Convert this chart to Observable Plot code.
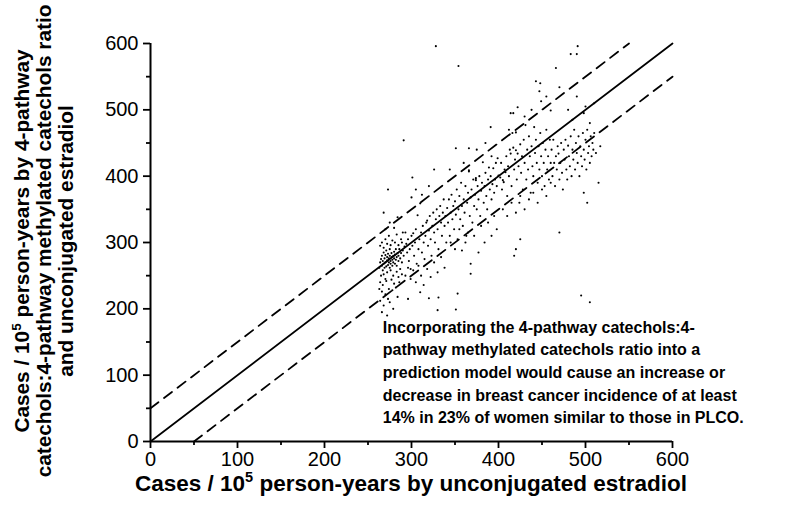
<!DOCTYPE html>
<html>
<head>
<meta charset="utf-8">
<script src="https://cdn.jsdelivr.net/npm/d3@7"></script>
<script src="https://cdn.jsdelivr.net/npm/@observablehq/plot@0.6"></script>
<style>
  html, body { margin: 0; padding: 0; background: #fff; }
  #chart { width: 804px; height: 518px; }
</style>
</head>
<body>
<div id="chart"></div>
<script>
// ---- Data ----
const majorTicks = [0, 100, 200, 300, 400, 500, 600];
const minorTicks = [50, 150, 250, 350, 450, 550];

// Reference lines: identity and +/- 50 bands
const identityLine = [[0, 0], [600, 600]];
const upperBand = [[0, 50], [550, 600]];
const lowerBand = [[50, 0], [600, 550]];

// Scatter: [unconjugated estradiol model, 4-pathway ratio model]
const points = [
[263,262],[264,270],[265,275],[266,265],[266,280],[267,258],[267,272],[268,268],[268,285],[269,262],[269,276],[270,270],[270,281],[271,264],[271,288],[272,273],[272,278],[273,266],[273,283],[274,270],[274,276],[275,262],[275,280],[275,290],[276,272],[276,268],[277,278],[277,284],[278,265],[278,274],[279,280],[279,270],[280,276],[280,286],[281,268],[281,282],[282,274],[282,290],[283,278],[283,265],[284,284],[285,272],[285,280],[286,290],[287,276],[288,284],[289,270],[290,288],[291,280],[292,294],
[265,250],[268,252],[270,245],[272,255],[276,258],[279,250],[283,256],[287,260],[264,240],[267,236],[271,242],[274,230],[277,244],[280,238],[285,248],[289,252],[266,226],[270,222],[273,215],[278,228],[282,232],[286,240],[264,212],[268,205],[275,210],[279,200],[284,218],[266,195],[272,190],[263,230],
[264,295],[266,300],[268,292],[270,305],[272,298],[274,310],[276,296],[278,303],[281,300],[283,312],[285,296],[288,305],[290,315],[270,320],[275,330],[280,322],[284,338],[268,345],[273,380],[289,300],
[293,315],[294,298],[295,285],[296,305],[297,272],[298,290],[299,260],[300,310],[301,295],[302,314],[303,280],[304,300],[305,320],[306,268],[307,341],[308,290],[309,305],[310,359],[311,315],[312,285],[313,325],[314,300],[315,275],[316,310],[317,330],[318,333],[319,295],[320,318],[321,340],[322,305],[323,280],[324,325],[325,345],[326,315],[327,300],[328,335],[329,350],[330,320],[331,290],[332,340],[333,355],[334,330],[335,310],[336,345],[337,365],[338,325],[339,340],[340,300],
[293,250],[296,262],[299,245],[302,258],[305,240],[308,265],[311,250],[314,236],[318,260],[322,248],[326,270],[330,255],[334,278],[338,262],
[300,368],[305,380],[312,372],[320,385],[326,410],[301,398],[291,454],
[320,216],[331,217],[330,198],[296,215],[310,225],
[341,352],[342,330],[343,365],[344,310],[345,345],[346,372],[347,335],[348,355],[349,320],[350,362],[351,342],[352,380],[353,305],[354,350],[355,370],[356,335],[357,390],[358,355],[359,325],[360,365],[361,345],[362,385],[363,310],[364,360],[365,375],[366,409],[367,340],[368,368],[369,380],[370,330],[371,395],[372,355],[373,372],[374,394],[375,350],[376,385],[377,365],[378,400],[379,340],[380,378],[381,390],[382,421],[383,360],[384,385],[385,405],[386,370],[387,350],[388,395],[389,413],[390,380],[391,400],[392,365],[393,388],[394,412],[395,375],[396,395],[397,420],[398,385],[399,427],[400,401],
[345,300],[350,290],[355,320],[358,288],[362,300],[365,315],[368,268],[368,253],[372,310],[377,285],[380,325],[384,300],[388,330],[392,310],[395,340],[398,320],
[351,442],[366,442],[354,566],[328,596],[374,397],[366,407],[353,223],[351,199],[344,410],[360,420],[375,440],[385,450],[392,430],
[402,398],[403,420],[404,380],[405,394],[406,391],[407,410],[408,406],[409,430],[410,370],[411,415],[412,400],[413,440],[414,434],[414,495],[415,385],[416,465],[417,443],[417,495],[418,410],[419,425],[420,439],[420,466],[421,395],[422,434],[422,504],[423,415],[424,360],[425,448],[426,405],[427,430],[428,380],[429,455],[430,420],[431,477],[432,395],[433,440],[434,410],[435,460],[436,430],[437,375],[438,445],[439,415],[440,400],[441,474],[442,435],[443,455],[444,420],[445,390],[446,445],[447,410],[448,465],[449,430],[450,400],[451,450],[452,420],[453,385],[454,440],[455,470],[456,410],[457,430],[458,395],[459,455],[460,420],
[405,350],[410,340],[415,360],[420,345],[425,370],[430,350],[435,365],[440,375],[445,360],[450,380],[455,370],[460,390],
[420,290],[425,305],[418,280],[443,543],[448,540],[447,528],[449,513],[391,474],[412,470],[430,490],[438,500],[455,520],
[461,440],[462,400],[463,455],[464,420],[465,385],[466,430],[467,410],[468,445],[469,434],[470,395],[471,420],[472,450],[473,405],[474,380],[475,440],[476,425],[477,455],[478,410],[479,395],[480,446],[481,430],[482,415],[483,460],[484,400],[485,440],[486,425],[487,470],[488,410],[489,450],[490,435],[491,420],[492,460],[493,400],[494,445],[495,430],[496,415],[497,465],[498,440],[499,425],[500,455],[501,410],[502,470],[503,435],[504,445],[505,420],[506,460],[507,430],[508,450],[509,440],[510,465],[512,435],[515,390],[517,445],
[466,563],[470,534],[460,499],[483,584],[490,584],[491,596],[470,315],[495,220],[505,210],[480,500],[490,520],[500,505],[505,480],[498,495],[485,485],[510,510],[502,360],[498,375]
];

const annotationLines = [
  "Incorporating the 4-pathway catechols:4-",
  "pathway methylated catechols ratio into a",
  "prediction model would cause an increase or",
  "decrease in breast cancer incidence of at least",
  "14% in 23% of women similar to those in PLCO."
];
const annotation = [{x: 267, y: 188.5, text: annotationLines.join("\n")}];

const xTitle = ["Cases / 10", "5", " person-years by unconjugated estradiol"];
const yTitleLines = [
  ["Cases / 10", "5", " person-years by 4-pathway"],
  ["catechols:4-pathway methylated catechols ratio"],
  ["and unconjugated estradiol"]
];

// ---- Chart ----
const W = 804, H = 518;
const mL = 150, mR = 132, mT = 43, mB = 77;
const font = "'Liberation Sans', Arial, Helvetica, sans-serif";

const chart = Plot.plot({
  width: W,
  height: H,
  marginLeft: mL,
  marginRight: mR,
  marginTop: mT,
  marginBottom: mB,
  style: {fontFamily: font, fontSize: "20px", background: "#fff", color: "#000"},
  x: {domain: [0, 600]},
  y: {domain: [0, 600]},
  marks: [
    Plot.axisX({ticks: majorTicks, tickSize: 7, tickPadding: 3, tickFormat: d => String(d), label: null, strokeWidth: 1.8, fontSize: 20}),
    Plot.axisX({ticks: minorTicks, tickSize: 4, tickFormat: () => "", label: null, strokeWidth: 1.8}),
    Plot.axisY({ticks: majorTicks, tickSize: 7, tickPadding: 5, tickFormat: d => String(d), label: null, strokeWidth: 1.8, fontSize: 20}),
    Plot.axisY({ticks: minorTicks, tickSize: 4, tickFormat: () => "", label: null, strokeWidth: 1.8}),
    Plot.ruleY([0], {stroke: "#000", strokeWidth: 2}),
    Plot.ruleX([0], {stroke: "#000", strokeWidth: 2}),
    Plot.line(identityLine, {x: d => d[0], y: d => d[1], stroke: "#000", strokeWidth: 1.8}),
    Plot.line(upperBand, {x: d => d[0], y: d => d[1], stroke: "#000", strokeWidth: 1.8, strokeDasharray: "10,7"}),
    Plot.line(lowerBand, {x: d => d[0], y: d => d[1], stroke: "#000", strokeWidth: 1.8, strokeDasharray: "10,7"}),
    Plot.dot(points, {x: d => d[0], y: d => d[1], r: 1.05, fill: "#000", stroke: null}),
    Plot.text(annotation, {x: "x", y: "y", text: "text", textAnchor: "start", lineAnchor: "top", lineHeight: 1.42, fontSize: 16, fontWeight: "bold", fill: "#000"})
  ]
});

const svg = d3.select(chart);

// X axis title
const xt = svg.append("text")
  .attr("x", (mL + (W - mR)) / 2)
  .attr("y", 491)
  .attr("text-anchor", "middle")
  .attr("font-family", font)
  .attr("font-size", 22.5)
  .attr("font-weight", "bold")
  .attr("fill", "#000");
xt.append("tspan").text(xTitle[0]);
xt.append("tspan").attr("dy", -9).attr("font-size", 14.5).text(xTitle[1]);
xt.append("tspan").attr("dy", 9).text(xTitle[2]);

// Y axis title (three lines, rotated)
const lineX = [29, 51, 73];
yTitleLines.forEach((parts, i) => {
  const t = svg.append("text")
    .attr("transform", `translate(${lineX[i]},241) rotate(-90)`)
    .attr("text-anchor", "middle")
    .attr("font-family", font)
    .attr("font-size", 20.8)
    .attr("font-weight", "bold")
    .attr("fill", "#000");
  if (parts.length === 1) {
    t.text(parts[0]);
  } else {
    t.append("tspan").text(parts[0]);
    t.append("tspan").attr("dy", -8).attr("font-size", 13.5).text(parts[1]);
    t.append("tspan").attr("dy", 8).text(parts[2]);
  }
});

document.getElementById("chart").appendChild(chart);
</script>
</body>
</html>
